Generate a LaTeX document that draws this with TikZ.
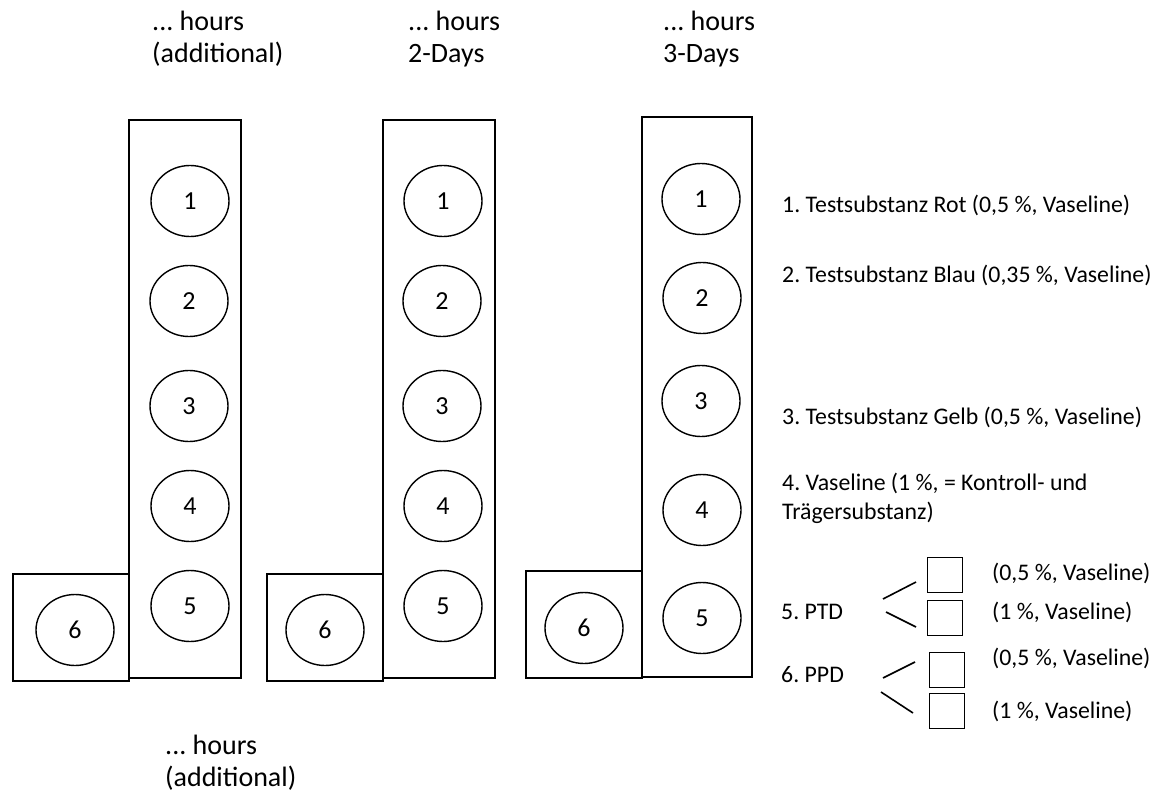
\documentclass[tikz,border=0pt]{standalone}
\usepackage{fontspec}
\setmainfont{Carlito}
\usetikzlibrary{shapes.geometric}
\begin{document}
\frenchspacing
\begin{tikzpicture}[x=1pt,y=-1pt,
  well/.style={ellipse, draw, minimum width=78pt, minimum height=71pt, inner sep=0pt, line width=1.4pt, font=\fontsize{26}{26}\selectfont},
  frame/.style={draw, line width=1.7pt},
  head/.style={anchor=base west, inner sep=0pt, font=\fontsize{28}{34}\selectfont},
  leg/.style={anchor=base west, inner sep=0pt, font=\fontsize{23.8}{29}\selectfont},
  sw/.style={draw, minimum size=35pt, inner sep=0pt, line width=1.6pt},
  tick/.style={draw, line width=1.6pt}]
\useasboundingbox (0,0) rectangle (1165,800);

% headers
\node[head] (h1a) at (152,31) {... hours};
\node[head] (h1b) at (152,63) {(additional)};
\node[head] (h2a) at (408,31) {... hours};
\node[head] (h2b) at (408,63) {2-Days};
\node[head] (h3a) at (663,31) {... hours};
\node[head] (h3b) at (663,63) {3-Days};
\node[head] (hba) at (165,754) {... hours};
\node[head] (hbb) at (165,786) {(additional)};

% column 1
\draw[frame] (129,120) rectangle (241,678);
\draw[frame] (13,574) rectangle (129,681);
\node[well] (a1) at (190,201) {1};
\node[well] (a2) at (189,301) {2};
\node[well] (a3) at (189,406) {3};
\node[well] (a4) at (190,506) {4};
\node[well] (a5) at (190,606) {5};
\node[well] (a6) at (75,630) {6};

% column 2
\draw[frame] (383,120) rectangle (495,678);
\draw[frame] (267,574) rectangle (383,681);
\node[well] (b1) at (443,201) {1};
\node[well] (b2) at (442,301) {2};
\node[well] (b3) at (442,406) {3};
\node[well] (b4) at (443,506) {4};
\node[well] (b5) at (443,606) {5};
\node[well] (b6) at (325,630) {6};

% column 3
\draw[frame] (642,117) rectangle (752,677);
\draw[frame] (526,571) rectangle (642,678);
\node[well] (c1) at (701,199) {1};
\node[well] (c2) at (702,298) {2};
\node[well] (c3) at (701,401) {3};
\node[well] (c4) at (702,510) {4};
\node[well] (c5) at (702,618) {5};
\node[well] (c6) at (584,628) {6};

% legend
\node[leg] (l1) at (782,212) {1. Testsubstanz Rot (0,5 \%, Vaseline)};
\node[leg] (l2) at (782,282) {2. Testsubstanz Blau (0,35 \%, Vaseline)};
\node[leg] (l3) at (782,424) {3. Testsubstanz Gelb (0,5 \%, Vaseline)};
\node[leg] (l4a) at (782,490) {4. Vaseline (1 \%, = Kontroll- und};
\node[leg] (l4b) at (782,519) {Trägersubstanz)};
\node[leg] (l5) at (781,619) {5. PTD};
\node[leg] (l6) at (781,682) {6. PPD};

\node[sw] (s1) at (945,575) {};
\node[sw] (s2) at (945,618) {};
\node[sw] (s3) at (947,670) {};
\node[sw] (s4) at (947,711) {};

\node[leg] (t1) at (992,580) {(0,5 \%, Vaseline)};
\node[leg] (t2) at (992,619) {(1 \%, Vaseline)};
\node[leg] (t3) at (992,665) {(0,5 \%, Vaseline)};
\node[leg] (t4) at (992,718) {(1 \%, Vaseline)};

\coordinate (p1a) at (883,599); \coordinate (p1b) at (916,582);
\coordinate (p2a) at (886,612); \coordinate (p2b) at (916,627);
\coordinate (p3a) at (883,678); \coordinate (p3b) at (915,662);
\coordinate (p4a) at (881,692); \coordinate (p4b) at (913,713);
\draw[tick] (p1a) -- (p1b);
\draw[tick] (p2a) -- (p2b);
\draw[tick] (p3a) -- (p3b);
\draw[tick] (p4a) -- (p4b);
\end{tikzpicture}
\end{document}
